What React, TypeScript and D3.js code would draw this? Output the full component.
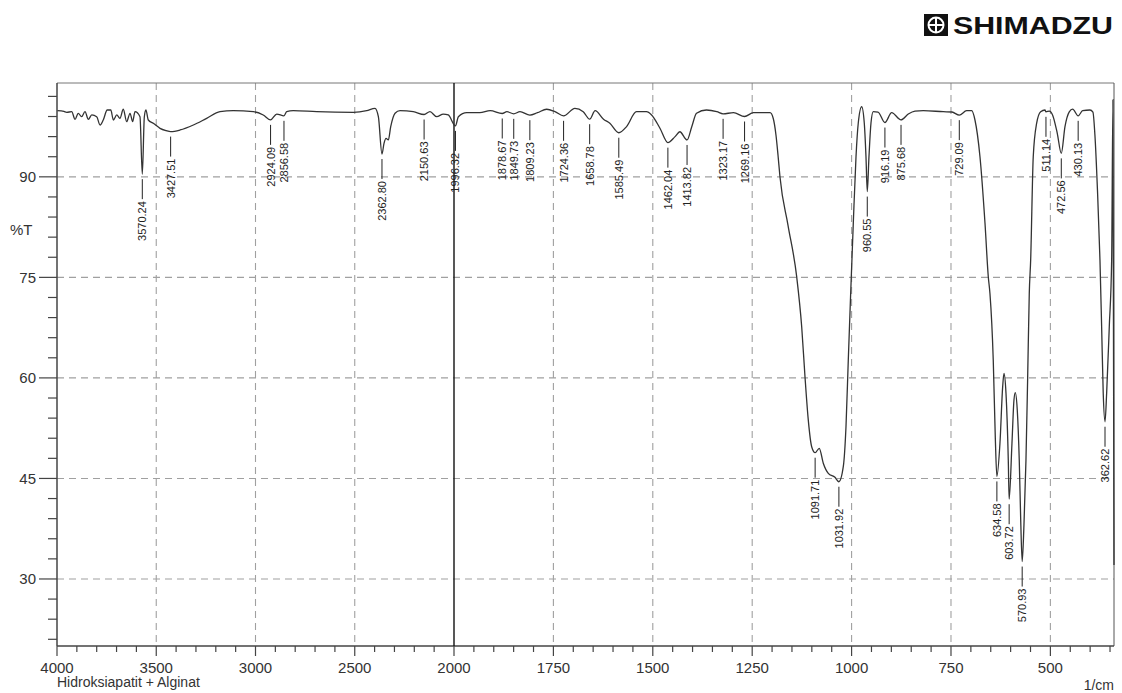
import React from "react";
import * as d3 from "d3";

// %T spectrum, [wavenumber 1/cm, %T]
const spectrum: [number, number][] = [
  [3998, 99.87], [3965, 99.75], [3951, 99.63], [3926, 99.72], [3909, 98.58],
  [3893, 99.48], [3876, 98.97], [3859, 99.72], [3842, 98.58], [3825, 99.23],
  [3800, 98.97], [3783, 97.73], [3767, 98.48], [3747, 99.97], [3729, 99.97],
  [3716, 98.48], [3699, 99.23], [3683, 98.73], [3666, 100.08], [3649, 98.23],
  [3632, 99.48], [3619, 98.23], [3607, 99.72], [3582, 98.97], [3570.24, 90.4],
  [3560, 98.97], [3552, 99.97], [3540, 98.48], [3515, 97.99], [3481, 97.24],
  [3450, 96.9], [3427.51, 96.75], [3380, 96.99], [3313, 97.73], [3246, 98.73],
  [3179, 99.72], [3112, 99.87], [3011, 99.72], [2961, 99.23], [2924.09, 98.5],
  [2893, 99.37], [2856.58, 99.1], [2843, 99.72], [2810, 99.87], [2692, 99.72],
  [2507, 99.63], [2440, 99.87], [2398, 100.22], [2381, 98.97], [2362.8, 93.4],
  [2352.6, 95.0], [2342.5, 95.75], [2330.9, 95.5], [2318.8, 97.48], [2297, 99.48],
  [2272, 99.87], [2205, 99.72], [2150.63, 99.3], [2121, 99.72], [2087, 98.97],
  [2054, 99.37], [2029, 99.23], [1996.32, 97.6], [1989, 98.97], [1968, 99.57],
  [1935, 99.57], [1909, 99.87], [1878.67, 99.45], [1867, 99.72], [1849.73, 99.4],
  [1834, 99.72], [1809.23, 99.2], [1790, 99.57], [1767, 100.08], [1746, 99.72],
  [1724.36, 99.1], [1696, 100.2], [1675, 99.72], [1658.78, 98.6], [1645, 99.87],
  [1624, 98.6], [1608, 98.0], [1585.49, 96.58], [1566, 97.5], [1541, 99.72],
  [1516, 99.72], [1503, 99.23], [1482, 97.25], [1462.04, 95.1], [1444, 96.0],
  [1432, 96.73], [1413.82, 95.5], [1402, 97.48], [1390, 99.48], [1365, 99.97],
  [1339, 99.72], [1323.17, 99.4], [1297, 99.57], [1269.16, 99.0], [1247, 99.57],
  [1205, 99.57], [1197, 98.7], [1190.2, 96.24], [1185.1, 93.26], [1180.1, 89.97],
  [1160, 82.8], [1138.1, 75.1], [1125.5, 67.64], [1117.2, 60.18], [1108.9, 53.7],
  [1100.4, 49.73], [1091.71, 48.84], [1081.3, 49.5], [1071.2, 47.26], [1058.6, 45.76],
  [1041.8, 45.17], [1031.92, 44.51], [1020.9, 46.75], [1014.1, 52.72], [1008.3, 62.67],
  [1002.3, 72.62], [995.7, 83.1], [988.9, 93.0], [983.2, 98.03], [974.6, 100.46],
  [968.1, 98.03], [963.8, 93.0], [960.55, 87.8], [956.3, 93.0], [951.2, 98.03],
  [945.5, 99.72], [933.6, 99.67], [916.19, 98.1], [899.2, 99.57], [875.68, 98.5],
  [857.4, 99.37], [840.6, 99.8], [819.7, 99.87], [769.4, 99.72], [747.5, 99.67],
  [729.09, 99.2], [710.6, 99.87], [698.0, 99.87], [689.7, 98.48], [677.1, 93.0],
  [664.5, 83.1], [656.2, 75.1], [652.0, 72.6], [643.7, 62.67], [638.5, 51.0],
  [634.58, 45.3], [626.8, 50.3], [620.0, 58.7], [616.7, 60.68], [611.7, 57.74],
  [605.9, 47.75], [603.72, 41.9], [596.6, 50.3], [591.6, 56.7], [588.3, 57.8],
  [583.3, 55.2], [578.3, 47.75], [574.5, 38.5], [570.93, 32.6], [566.5, 38.0],
  [561.4, 47.75], [557.1, 60.2], [553.1, 72.6], [549.6, 77.6], [543.1, 93.0],
  [534.5, 98.0], [524.5, 99.72], [513.6, 99.97], [511.14, 99.7], [502.8, 99.8],
  [494.3, 99.2], [482.7, 96.5], [472.56, 93.5], [463.3, 97.5], [452.5, 99.7],
  [444, 100.1], [430.13, 99.1], [418.8, 99.87], [400.5, 99.97], [393, 99.67],
  [388, 96.24], [381.6, 88.03], [375.3, 77.59], [371.1, 67.64], [367.1, 57.7],
  [362.62, 53.46], [358.5, 57.7], [351.9, 67.6], [345.9, 77.6], [342.6, 101.5],
  [340, 32.1],
];

const peakWavenumbers = [
  3570.24, 3427.51, 2924.09, 2856.58, 2362.8, 2150.63, 1996.32, 1878.67, 1849.73,
  1809.23, 1724.36, 1658.78, 1585.49, 1462.04, 1413.82, 1323.17, 1269.16, 1091.71,
  1031.92, 960.55, 916.19, 875.68, 729.09, 634.58, 603.72, 570.93, 511.14, 472.56,
  430.13, 362.62,
];
const peakTransmittance = [
  90.4, 96.75, 98.5, 99.1, 93.4, 99.3, 97.6, 99.45, 99.4,
  99.2, 99.1, 98.6, 96.58, 95.1, 95.5, 99.4, 99.0, 48.84,
  44.51, 87.8, 98.1, 98.5, 99.2, 45.3, 41.9, 32.6, 99.7, 93.5,
  99.1, 53.46,
];

const xLabels = [4000, 3500, 3000, 2500, 2000, 1750, 1500, 1250, 1000, 750, 500];
const yLabels = [90, 75, 60, 45, 30];

const FONT = "'Liberation Sans', Arial, Helvetica, sans-serif";

export default function App() {
  const left = 57, right = 1114, top = 83, bottom = 646;
  const x = d3.scaleLinear().domain([4000, 2000, 340]).range([left, 454, right]);
  const y = d3.scaleLinear().domain([20, 104]).range([bottom, top]);

  const line = d3
    .line<[number, number]>()
    .x((d) => x(d[0]))
    .y((d) => y(d[1]))
    .curve(d3.curveMonotoneX);

  const minorX = [...d3.range(4000, 2000, -100), ...d3.range(2000, 339, -50)];
  const minorY = d3.range(21, 104, 3);
  const gridX = xLabels.filter((v) => v !== 4000 && v !== 2000);

  return (
    <svg
      width={1122}
      height={693}
      style={{ position: "absolute", left: 0, top: 0, background: "#fff" }}
      fontFamily={FONT}
    >
      {/* logo */}
      <g>
        <rect x={924} y={14} width={24} height={22} fill="#111" />
        <circle cx={936} cy={25} r={7.5} fill="none" stroke="#fff" strokeWidth={2} />
        <line x1={936} y1={17.5} x2={936} y2={32.5} stroke="#fff" strokeWidth={2} />
        <line x1={928.5} y1={25} x2={943.5} y2={25} stroke="#fff" strokeWidth={2} />
        <text
          x={953}
          y={34}
          fontSize={24}
          fontWeight={900}
          fill="#111"
          textLength={160}
          lengthAdjust="spacingAndGlyphs"
        >
          SHIMADZU
        </text>
      </g>

      {/* grid */}
      {gridX.map((v) => (
        <line key={"gx" + v} x1={x(v)} x2={x(v)} y1={top} y2={bottom}
          stroke="#a0a0a0" strokeWidth={1.1} strokeDasharray="7,5" />
      ))}
      {yLabels.map((v) => (
        <line key={"gy" + v} x1={left} x2={right} y1={y(v)} y2={y(v)}
          stroke="#a0a0a0" strokeWidth={1.1} strokeDasharray="7,5" />
      ))}

      {/* frame */}
      <line x1={left} x2={right} y1={top} y2={top} stroke="#777" strokeWidth={1} />
      <line x1={right} x2={right} y1={top} y2={bottom} stroke="#555" strokeWidth={1} />
      <line x1={left} x2={left} y1={top} y2={bottom} stroke="#444" strokeWidth={1.5} />
      <line x1={left} x2={right} y1={bottom} y2={bottom} stroke="#444" strokeWidth={1.5} />
      <line x1={x(2000)} x2={x(2000)} y1={top} y2={bottom} stroke="#111" strokeWidth={1.4} />

      {/* x ticks */}
      {minorX.map((v) => (
        <line key={"tx" + v} x1={x(v)} x2={x(v)} y1={bottom}
          y2={bottom + (xLabels.includes(v) ? 10 : 6)} stroke="#444" strokeWidth={1.2} />
      ))}
      {xLabels.map((v) => (
        <text key={"lx" + v} x={x(v)} y={673} fontSize={15} fill="#333" textAnchor="middle">
          {v}
        </text>
      ))}

      {/* y ticks */}
      {minorY.map((v) => (
        <line key={"ty" + v} x1={yLabels.includes(v) ? 39 : 48} x2={left} y1={y(v)} y2={y(v)}
          stroke="#444" strokeWidth={1.2} />
      ))}
      {yLabels.map((v) => (
        <text key={"ly" + v} x={36} y={y(v)} fontSize={15} fill="#333" textAnchor="end"
          dominantBaseline="central">
          {v}
        </text>
      ))}
      <text x={10} y={229} fontSize={15} fill="#333" dominantBaseline="central">%T</text>

      <text x={left} y={687} fontSize={14} fill="#333">Hidroksiapatit + Alginat</text>
      <text x={right} y={690} fontSize={14} fill="#333" textAnchor="end">1/cm</text>

      {/* spectrum */}
      <path d={line(spectrum) || ""} fill="none" stroke="#333" strokeWidth={1.3} />

      {/* peak labels */}
      {peakWavenumbers.map((wn, i) => {
        const px = x(wn);
        const py = y(peakTransmittance[i]) + 5;
        return (
          <g key={"pk" + wn}>
            <line x1={px} x2={px} y1={py} y2={py + 20} stroke="#222" strokeWidth={1} />
            <text
              transform={`translate(${px},${py + 22}) rotate(-90)`}
              fontSize={11}
              fill="#222"
              textAnchor="end"
              dominantBaseline="central"
            >
              {wn.toFixed(2)}
            </text>
          </g>
        );
      })}
    </svg>
  );
}
